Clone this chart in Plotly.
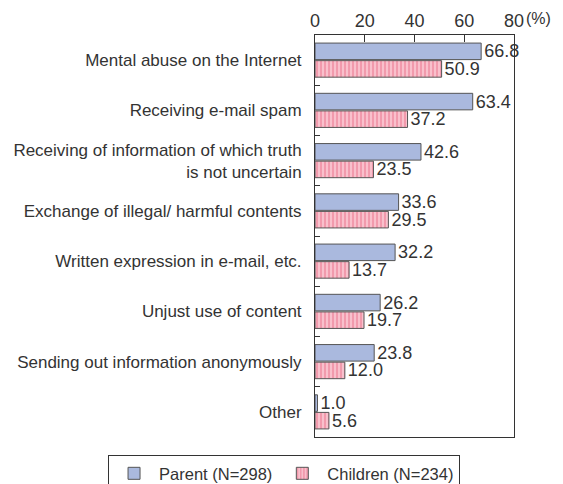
import plotly.graph_objects as go

categories = [
    "Mental abuse on the Internet",
    "Receiving e-mail spam",
    "Receiving of information of which truth<br>is not uncertain",
    "Exchange of illegal/ harmful contents",
    "Written expression in e-mail, etc.",
    "Unjust use of content",
    "Sending out information anonymously",
    "Other",
]
parent = [66.8, 63.4, 42.6, 33.6, 32.2, 26.2, 23.8, 1.0]
children = [50.9, 37.2, 23.5, 29.5, 13.7, 19.7, 12.0, 5.6]
x_ticks = [0, 20, 40, 60, 80]

FONT = "Liberation Sans, Arial, sans-serif"
TXT = "#333333"

# page body has an 8px margin, so the figure is slightly smaller than the window
W, H = 555, 476

fig = go.Figure()
fig.add_trace(go.Bar(
    y=categories, x=parent, orientation="h", name="Parent (N=298)",
    marker=dict(color="#aab9de", line=dict(color="#555555", width=1)),
    text=[f"{v:.1f}" for v in parent], textposition="outside",
    textfont=dict(size=18, color=TXT), cliponaxis=False, constraintext="none",
))
fig.add_trace(go.Bar(
    y=categories, x=children, orientation="h", name="Children (N=234)",
    marker=dict(
        color="#f7b3c2", line=dict(color="#555555", width=1),
        pattern=dict(shape="|", fgcolor="#e8607e", bgcolor="#f9c0cc", size=4, solidity=0.4),
    ),
    text=[f"{v:.1f}" for v in children], textposition="outside",
    textfont=dict(size=18, color=TXT), cliponaxis=False, constraintext="none",
))

fig.update_layout(
    width=W, height=H,
    margin=dict(l=307, r=49, t=27, b=47, autoexpand=False),
    barmode="group", bargap=0.3, bargroupgap=0.06,
    plot_bgcolor="white", paper_bgcolor="white",
    font=dict(family=FONT, color=TXT, size=14),
    legend=dict(
        orientation="h", x=-1.04, xanchor="left", y=-0.045, yanchor="top",
        bordercolor="#333333", borderwidth=1, font=dict(size=16.5),
        traceorder="normal", itemwidth=40, tracegroupgap=0,
    ),
)
fig.update_xaxes(
    side="top", range=[0, 80], tickvals=x_ticks, automargin=False,
    ticks="inside", ticklen=7, tickcolor="#333333",
    showline=True, linecolor="#333333", linewidth=1, mirror=True,
    showgrid=False, zeroline=False, tickfont=dict(size=18),
)
fig.update_yaxes(
    autorange="reversed", ticks="inside", ticklen=5, tickcolor="#333333",
    tickson="boundaries", showline=True, linecolor="#333333", linewidth=1,
    mirror=True, showgrid=False, tickfont=dict(size=17),
    ticklabelstandoff=9, automargin=False,
)
fig.add_annotation(
    x=80, y=1, xref="x", yref="paper", text="(%)", showarrow=False,
    xanchor="left", yanchor="bottom", xshift=10, yshift=6,
    font=dict(size=16, color=TXT),
)

fig.write_html("out.html")
